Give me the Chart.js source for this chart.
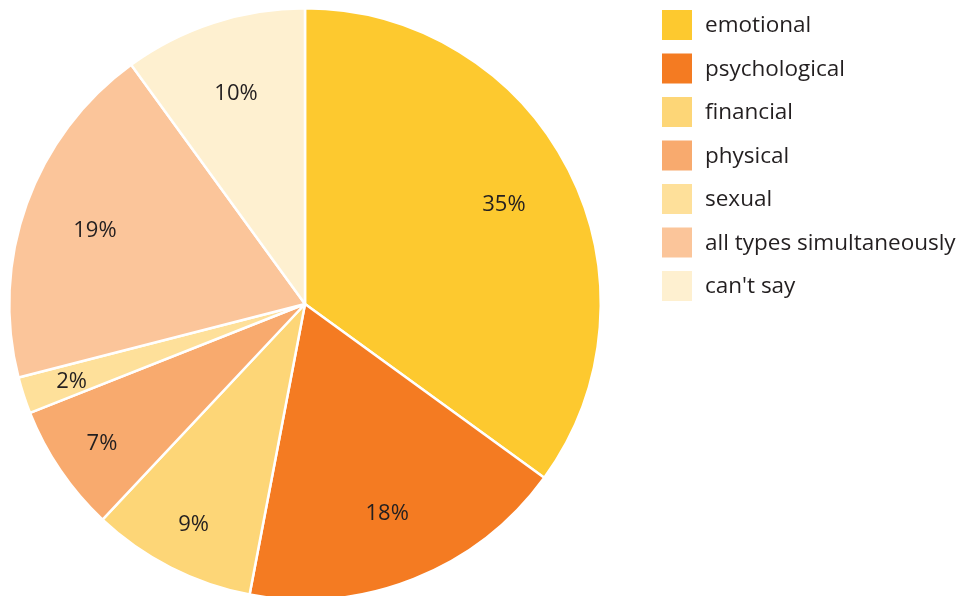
<!DOCTYPE html>
<html>
<head>
<meta charset="utf-8">
<script src="https://cdn.jsdelivr.net/npm/chart.js@4.4.1/dist/chart.umd.min.js"></script>
<style>
  html, body { margin: 0; padding: 0; background: #fff; overflow: hidden; }
  #wrap { position: relative; width: 960px; height: 610px; }
</style>
</head>
<body>
<div id="wrap"><canvas id="pie"></canvas></div>
<script>
// Forms of violence experienced (share of respondents, %)
const categories = ['emotional', 'psychological', 'financial', 'physical', 'sexual', 'all types simultaneously', "can't say"];
const shares = [35, 18, 9, 7, 2, 19, 10];
const sliceColors = ['#FDC92F', '#F47B22', '#FDD677', '#F8AA6E', '#FEE09A', '#FBC59A', '#FEF0D0'];

const TEXT = '#231F20';
const FONT = '"Open Sans", "Liberation Sans", sans-serif';

// percentage labels inside each slice
const sliceLabels = {
  id: 'sliceLabels',
  afterDatasetsDraw(chart) {
    const ctx = chart.ctx;
    const meta = chart.getDatasetMeta(0);
    ctx.save();
    ctx.font = '22px ' + FONT;
    ctx.fillStyle = TEXT;
    ctx.textAlign = 'center';
    ctx.textBaseline = 'middle';
    meta.data.forEach((arc, i) => {
      const p = arc.getProps(['x', 'y', 'startAngle', 'endAngle', 'outerRadius']);
      const mid = (p.startAngle + p.endAngle) / 2;
      const f = shares[i] >= 10 ? 0.755 : 0.83;
      const r = p.outerRadius * f;
      ctx.fillText(shares[i] + '%', p.x + Math.cos(mid) * r, p.y + Math.sin(mid) * r + 2);
    });
    ctx.restore();
  }
};

// legend column on the right
const sideLegend = {
  id: 'sideLegend',
  afterDraw(chart) {
    const ctx = chart.ctx;
    const x0 = 662, y0 = 10, box = 30, step = 43.5;
    ctx.save();
    ctx.font = '22.5px ' + FONT;
    ctx.textAlign = 'left';
    ctx.textBaseline = 'middle';
    chart.data.labels.forEach((lab, i) => {
      const y = y0 + i * step;
      ctx.fillStyle = chart.data.datasets[0].backgroundColor[i];
      ctx.fillRect(x0, y, box, box);
      ctx.fillStyle = TEXT;
      ctx.fillText(lab, x0 + box + 13, y + box / 2 + 1);
    });
    ctx.restore();
  }
};

new Chart(document.getElementById('pie'), {
  type: 'pie',
  data: {
    labels: categories,
    datasets: [{
      data: shares,
      backgroundColor: sliceColors,
      borderColor: '#ffffff',
      borderWidth: 2.5
    }]
  },
  options: {
    responsive: true,
    maintainAspectRatio: false,
    animation: false,
    layout: { padding: { left: 8, top: 7, right: 358, bottom: 9 } },
    plugins: {
      legend: { display: false },
      tooltip: { enabled: false }
    }
  },
  plugins: [sliceLabels, sideLegend]
});
</script>
</body>
</html>
